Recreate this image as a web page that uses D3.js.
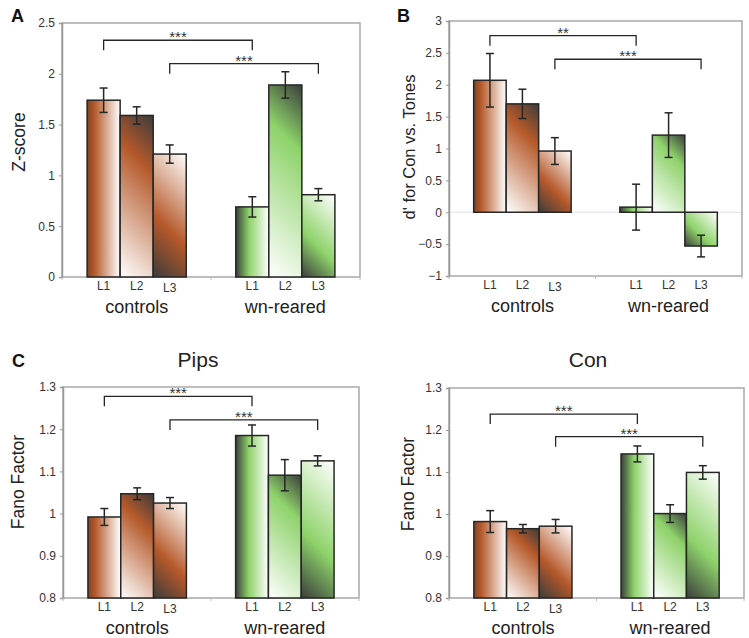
<!DOCTYPE html>
<html>
<head>
<meta charset="utf-8">
<script src="https://cdn.jsdelivr.net/npm/d3@7"></script>
<style>
  body { margin: 0; background: #fff; }
  svg { display: block; font-family: Arial, "Liberation Sans", sans-serif; }
</style>
</head>
<body>
<div class="wrapper"></div>
<script>
width = 749;
height = 638;

groups = ["controls", "wn-reared"];
levels = ["L1", "L2", "L3"];

// A: Z-score, rows = groups, cols = levels
zMean = [[1.74, 1.59, 1.21], [0.69, 1.89, 0.81]];
zErr = [[0.12, 0.085, 0.09], [0.10, 0.13, 0.06]];
zTicks = [0, 0.5, 1, 1.5, 2, 2.5];

// B: d' for Con vs. Tones
dMean = [[2.07, 1.70, 0.96], [0.08, 1.21, -0.53]];
dErr = [[0.42, 0.23, 0.21], [0.36, 0.35, 0.17]];
dTicks = [-1, -0.5, 0, 0.5, 1, 1.5, 2, 2.5, 3];

// C: Fano factor, Pips and Con
pipsMean = [[0.992, 1.047, 1.025], [1.185, 1.091, 1.125]];
pipsErr = [[0.020, 0.014, 0.013], [0.025, 0.037, 0.012]];
conMean = [[0.982, 0.965, 0.971], [1.143, 1.001, 1.099]];
conErr = [[0.026, 0.010, 0.016], [0.019, 0.021, 0.016]];
fanoTicks = [0.8, 0.9, 1, 1.1, 1.2, 1.3];

// significance brackets: from [group, level] to [group, level] at height y
sigA = [{ a: [0, 0], b: [1, 0], y: 2.33, label: "***" }, { a: [0, 2], b: [1, 2], y: 2.10, label: "***" }];
sigB = [{ a: [0, 0], b: [1, 0], y: 2.77, label: "**" }, { a: [0, 2], b: [1, 2], y: 2.40, label: "***" }];
sigPips = [{ a: [0, 0], b: [1, 0], y: 1.278, label: "***" }, { a: [0, 2], b: [1, 2], y: 1.222, label: "***" }];
sigCon = [{ a: [0, 0], b: [1, 0], y: 1.238, label: "***" }, { a: [0, 2], b: [1, 2], y: 1.184, label: "***" }];

/* colours */
palette = [
  { name: "brown", mid: "#b5592a", dark: "#3c3c3a", edge: "#7e4428" },
  { name: "green", mid: "#8ed26a", dark: "#3a3e3a", edge: "#3a3e3a" }
];

panels = [
  { letter: "A", title: null, ylabel: "Z-score", mean: zMean, err: zErr, ticks: zTicks, sig: sigA,
    x0: 62, x1: 360, y0: 23, y1: 277, ylx: 25, yly: 142, lx: 11, ly: 22 },
  { letter: "B", title: null, ylabel: "d' for Con vs. Tones", mean: dMean, err: dErr, ticks: dTicks, sig: sigB,
    x0: 449, x1: 742, y0: 21, y1: 276, ylx: 415, yly: 147, lx: 397, ly: 22, zero: true },
  { letter: "C", title: "Pips", tx: 198, mean: pipsMean, err: pipsErr, ticks: fanoTicks, sig: sigPips, ylabel: "Fano Factor",
    x0: 63, x1: 359, y0: 387, y1: 598, ylx: 24, yly: 482, lx: 12, ly: 367 },
  { letter: null, title: "Con", tx: 588, mean: conMean, err: conErr, ticks: fanoTicks, sig: sigCon, ylabel: "Fano Factor",
    x0: 449, x1: 744, y0: 388, y1: 598, ylx: 414, yly: 484 }
];

svg = d3.select(".wrapper")
  .append("svg")
  .attr("width", width)
  .attr("height", height)
  .attr("viewBox", "0 0 " + width + " " + height);

defs = svg.append("defs");

// horizontal gradient for L1 bars (same for every bar)
palette.forEach(function (p) {
  var g = defs.append("linearGradient")
    .attr("id", "l1-" + p.name)
    .attr("x1", 0).attr("y1", 0).attr("x2", 1).attr("y2", 0);
  var stops = p.name == "brown"
    ? [[0, p.edge], [0.22, p.mid], [1, "#ffffff"]]
    : [[0, p.dark], [0.4, p.mid], [1, "#ffffff"]];
  stops.forEach(function (s) {
    g.append("stop").attr("offset", s[0]).attr("stop-color", s[1]);
  });
});

gradCount = 0;
// diagonal gradient at 45deg in screen space, from top-right to bottom-left
function diagGradient(p, level, bx, by, bw, bh) {
  var id = "dg" + (gradCount++);
  var t = (bw + bh) / 2;
  var g = defs.append("linearGradient")
    .attr("id", id)
    .attr("gradientUnits", "userSpaceOnUse")
    .attr("x1", bx + bw).attr("y1", by)
    .attr("x2", bx + bw - t).attr("y2", by + t);
  var stops = level == 1
    ? [[0, p.dark], [0.3, p.mid], [1, "#ffffff"]]
    : [[0, "#ffffff"], [0.6, p.mid], [1, p.dark]];
  stops.forEach(function (s) {
    g.append("stop").attr("offset", s[0]).attr("stop-color", s[1]);
  });
  return "url(#" + id + ")";
}

function slot(g, i) { return g * 4.5 + i; }

function drawPanel(P) {
  var x = d3.scaleLinear().domain([-0.76, 8.26]).range([P.x0, P.x1]);
  var y = d3.scaleLinear().domain(d3.extent(P.ticks)).range([P.y1, P.y0]);
  var panel = svg.append("g").classed("panel", true);

  // zero line (B)
  if (P.zero) {
    panel.append("line")
      .attr("x1", P.x0).attr("x2", P.x1)
      .attr("y1", y(0)).attr("y2", y(0))
      .attr("stroke", "#e2e2e2").attr("stroke-width", 1);
  }

  // frame
  panel.append("rect")
    .attr("x", P.x0).attr("y", P.y0)
    .attr("width", P.x1 - P.x0).attr("height", P.y1 - P.y0)
    .attr("fill", "none").attr("stroke", "#a9a9a9").attr("stroke-width", 1.5);

  // y axis
  var yAxis = panel.append("g")
    .attr("transform", "translate(" + P.x0 + ",0)")
    .call(d3.axisLeft(y).tickValues(P.ticks).tickSize(3).tickPadding(4).tickFormat(d3.format("")));
  yAxis.select(".domain").attr("stroke", "#999").attr("stroke-width", 1.5);
  yAxis.selectAll(".tick line").attr("stroke", "#999");
  yAxis.selectAll("text").attr("fill", "#333").style("font-size", "12px").style("font-family", "Arial, 'Liberation Sans', sans-serif");

  // x tick marks at category boundaries
  panel.selectAll(".xtick")
    .data([-0.76, 3.75, 8.26])
    .enter().append("line")
    .attr("x1", function (d) { return x(d); }).attr("x2", function (d) { return x(d); })
    .attr("y1", P.y1).attr("y2", P.y1 + 3)
    .attr("stroke", "#bbb");

  // bars
  var bars = [];
  P.mean.forEach(function (row, g) {
    row.forEach(function (v, i) {
      bars.push({ g: g, i: i, v: v, e: P.err[g][i] });
    });
  });

  var base = y.domain()[0] < 0 ? 0 : y.domain()[0];
  panel.selectAll(".bar")
    .data(bars)
    .enter().append("rect")
    .classed("bar", true)
    .each(function (d) {
      var bx = x(slot(d.g, d.i)), bw = x(slot(d.g, d.i) + 1) - bx;
      var by = Math.min(y(d.v), y(base)), bh = Math.abs(y(d.v) - y(base));
      var p = palette[d.g];
      var fill = d.i == 0 ? "url(#l1-" + p.name + ")" : diagGradient(p, d.i, bx, by, bw, bh);
      d3.select(this)
        .attr("x", bx).attr("y", by).attr("width", bw).attr("height", bh)
        .attr("fill", fill)
        .attr("stroke", "#262626").attr("stroke-width", 1.5);
    });

  // error bars
  var eb = panel.selectAll(".err")
    .data(bars)
    .enter().append("g")
    .classed("err", true)
    .attr("stroke", "#262626").attr("stroke-width", 1.5);
  eb.append("line")
    .attr("x1", function (d) { return x(slot(d.g, d.i) + 0.5); })
    .attr("x2", function (d) { return x(slot(d.g, d.i) + 0.5); })
    .attr("y1", function (d) { return y(d.v - d.e); })
    .attr("y2", function (d) { return y(d.v + d.e); });
  [-1, 1].forEach(function (s) {
    eb.append("line")
      .attr("x1", function (d) { return x(slot(d.g, d.i) + 0.5) - 4; })
      .attr("x2", function (d) { return x(slot(d.g, d.i) + 0.5) + 4; })
      .attr("y1", function (d) { return y(d.v + s * d.e); })
      .attr("y2", function (d) { return y(d.v + s * d.e); });
  });

  // significance brackets
  var sg = panel.selectAll(".sig")
    .data(P.sig)
    .enter().append("g")
    .classed("sig", true);
  sg.append("path")
    .attr("d", function (d) {
      var xa = x(slot(d.a[0], d.a[1]) + 0.5), xb = x(slot(d.b[0], d.b[1]) + 0.5), yy = y(d.y);
      return "M" + xa + "," + (yy + 10) + "V" + yy + "H" + xb + "V" + (yy + 10);
    })
    .attr("fill", "none").attr("stroke", "#262626").attr("stroke-width", 1.3);
  sg.append("text")
    .attr("x", function (d) { return (x(slot(d.a[0], d.a[1]) + 0.5) + x(slot(d.b[0], d.b[1]) + 0.5)) / 2; })
    .attr("y", function (d) { return y(d.y) + 2; })
    .attr("text-anchor", "middle")
    .attr("fill", "#333")
    .style("font-size", "15px")
    .text(function (d) { return d.label; });

  // level labels
  panel.selectAll(".lvl")
    .data(bars)
    .enter().append("text")
    .attr("x", function (d) { return x(slot(d.g, d.i) + 0.5); })
    .attr("y", function (d) { return P.y1 + 13 + (d.g == 0 && d.i == 2 ? 2 : 0); })
    .attr("text-anchor", "middle")
    .attr("fill", "#333")
    .style("font-size", "12px")
    .text(function (d) { return levels[d.i]; });

  // group labels
  panel.selectAll(".grp")
    .data(groups)
    .enter().append("text")
    .attr("x", function (d, g) { return x(slot(g, 1.5)); })
    .attr("y", P.y1 + 36)
    .attr("text-anchor", "middle")
    .attr("fill", "#222")
    .style("font-size", "18px")
    .text(function (d) { return d; });

  // y label
  panel.append("text")
    .attr("transform", "translate(" + P.ylx + "," + P.yly + ") rotate(-90)")
    .attr("text-anchor", "middle")
    .attr("fill", "#222")
    .style("font-size", P.ylabel.length > 12 ? "16.5px" : "17.5px")
    .text(P.ylabel);

  if (P.title) {
    panel.append("text")
      .attr("x", P.tx).attr("y", 367)
      .attr("text-anchor", "middle")
      .attr("fill", "#222")
      .style("font-size", "21px")
      .text(P.title);
  }
  if (P.letter) {
    panel.append("text")
      .attr("x", P.lx).attr("y", P.ly)
      .attr("fill", "#111")
      .style("font-size", "18px")
      .style("font-weight", "bold")
      .text(P.letter);
  }
}

panels.forEach(drawPanel);
</script>
</body>
</html>
